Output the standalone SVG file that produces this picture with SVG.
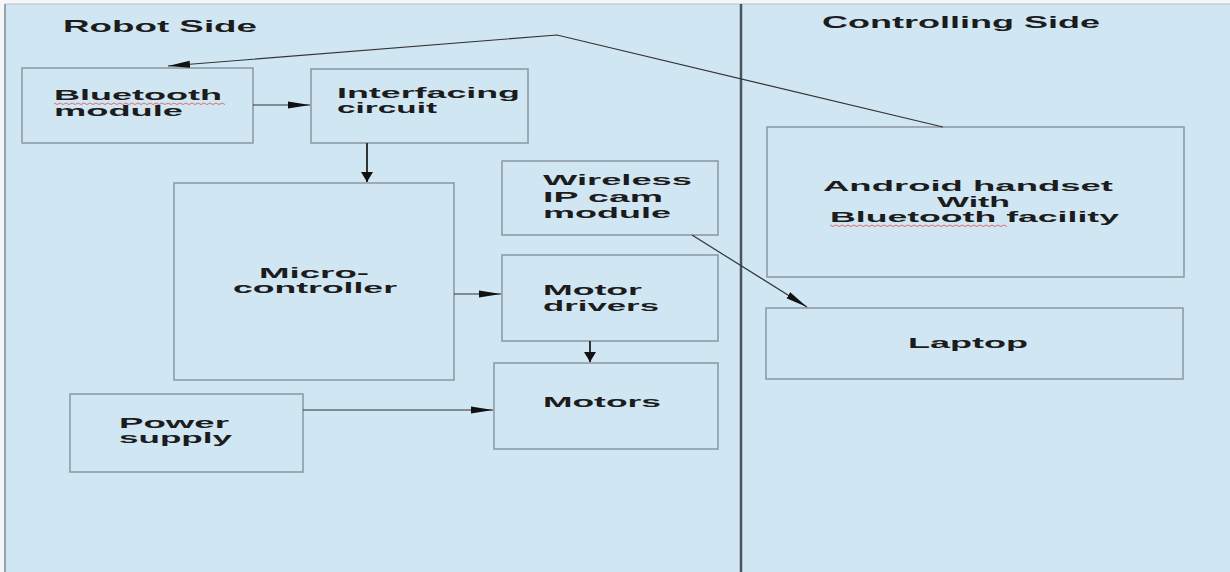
<svg xmlns="http://www.w3.org/2000/svg" width="1230" height="572" viewBox="0 0 1230 572">
<style>
.bg{fill:#d0e6f3}
.box{fill:none;stroke:#8e9ca6;stroke-width:1.6}
.t{font-family:"Liberation Sans",Arial,sans-serif;font-size:15px;font-weight:bold;fill:#1c1c1c}
.h{font-family:"Liberation Sans",Arial,sans-serif;font-size:16.5px;font-weight:bold;fill:#1c1c1c}
.c{fill:none;stroke:#333;stroke-width:1.2}
.cv{fill:none;stroke:#333;stroke-width:2}
.sq{fill:none;stroke:#e05050;stroke-width:0.8}
</style>
<defs>
<marker id="arrH" markerUnits="userSpaceOnUse" markerWidth="22" markerHeight="8" refX="22" refY="4" orient="auto" viewBox="0 0 22 8"><path d="M0,0.5 L22,4 L0,7.5 z" fill="#111"/></marker>
<marker id="arrV" markerUnits="userSpaceOnUse" markerWidth="10" markerHeight="12" refX="10" refY="6" orient="auto" viewBox="0 0 10 12"><path d="M0,0 L10,6 L0,12 z" fill="#111"/></marker>
</defs>
<rect x="0" y="0" width="1230" height="572" fill="#f4f6f7"/>
<rect class="bg" x="5" y="4" width="1225" height="568"/>
<line x1="5" y1="4" x2="1230" y2="4" stroke="#b9c2c8" stroke-width="1"/>
<line x1="5" y1="4" x2="5" y2="572" stroke="#98a2a8" stroke-width="2"/>
<line id="divider" x1="741" y1="4" x2="741" y2="572" stroke="#4b5459" stroke-width="2.5"/>
<text class="h" x="63" y="32" textLength="194" lengthAdjust="spacingAndGlyphs">Robot Side</text>
<text class="h" x="822" y="28" textLength="278" lengthAdjust="spacingAndGlyphs">Controlling Side</text>

<g id="bluetooth">
<rect class="box" x="22" y="68" width="231" height="75"/>
<text class="t" x="54" y="100" textLength="168" lengthAdjust="spacingAndGlyphs">Bluetooth</text>
<text class="t" x="54" y="116" textLength="129" lengthAdjust="spacingAndGlyphs">module</text>
<path class="sq" d="M54,103 l3,1.5 l3,-1.5 l3,1.5 l3,-1.5 l3,1.5 l3,-1.5 l3,1.5 l3,-1.5 l3,1.5 l3,-1.5 l3,1.5 l3,-1.5 l3,1.5 l3,-1.5 l3,1.5 l3,-1.5 l3,1.5 l3,-1.5 l3,1.5 l3,-1.5 l3,1.5 l3,-1.5 l3,1.5 l3,-1.5 l3,1.5 l3,-1.5 l3,1.5 l3,-1.5 l3,1.5 l3,-1.5 l3,1.5 l3,-1.5 l3,1.5 l3,-1.5 l3,1.5 l3,-1.5 l3,1.5 l3,-1.5 l3,1.5 l3,-1.5 l3,1.5 l3,-1.5 l3,1.5 l3,-1.5 l3,1.5 l3,-1.5 l3,1.5 l3,-1.5 l3,1.5 l3,-1.5 l3,1.5 l3,-1.5 l3,1.5 l3,-1.5 l3,1.5 l3,-1.5 l3,1.5"/>
</g>
<g id="interfacing">
<rect class="box" x="311" y="69" width="217" height="74"/>
<text class="t" x="337" y="98" textLength="183" lengthAdjust="spacingAndGlyphs">Interfacing</text>
<text class="t" x="337" y="113" textLength="100" lengthAdjust="spacingAndGlyphs">circuit</text>
</g>
<g id="microcontroller">
<rect class="box" x="174" y="183" width="280" height="197"/>
<text class="t" x="259" y="278" textLength="110" lengthAdjust="spacingAndGlyphs">Micro-</text>
<text class="t" x="233" y="293" textLength="164" lengthAdjust="spacingAndGlyphs">controller</text>
</g>
<g id="wireless">
<rect class="box" x="502" y="161" width="216" height="74"/>
<text class="t" x="543" y="185" textLength="149" lengthAdjust="spacingAndGlyphs">Wireless</text>
<text class="t" x="543" y="202" textLength="120" lengthAdjust="spacingAndGlyphs">IP cam</text>
<text class="t" x="543" y="218" textLength="128" lengthAdjust="spacingAndGlyphs">module</text>
</g>
<g id="motordrivers">
<rect class="box" x="502" y="255" width="216" height="86"/>
<text class="t" x="543" y="295" textLength="99" lengthAdjust="spacingAndGlyphs">Motor</text>
<text class="t" x="543" y="311" textLength="116" lengthAdjust="spacingAndGlyphs">drivers</text>
</g>
<g id="motors">
<rect class="box" x="494" y="363" width="224" height="86"/>
<text class="t" x="543" y="407" textLength="118" lengthAdjust="spacingAndGlyphs">Motors</text>
</g>
<g id="power">
<rect class="box" x="70" y="394" width="233" height="78"/>
<text class="t" x="119" y="428" textLength="110" lengthAdjust="spacingAndGlyphs">Power</text>
<text class="t" x="119" y="443" textLength="113" lengthAdjust="spacingAndGlyphs">supply</text>
</g>
<g id="android">
<rect class="box" x="767" y="127" width="417" height="150"/>
<text class="t" x="823" y="191" textLength="290" lengthAdjust="spacingAndGlyphs">Android handset</text>
<text class="t" x="937" y="207" textLength="73" lengthAdjust="spacingAndGlyphs">With</text>
<text class="t" x="830" y="222" textLength="289" lengthAdjust="spacingAndGlyphs">Bluetooth facility</text>
<path class="sq" d="M830,225 l3,1.5 l3,-1.5 l3,1.5 l3,-1.5 l3,1.5 l3,-1.5 l3,1.5 l3,-1.5 l3,1.5 l3,-1.5 l3,1.5 l3,-1.5 l3,1.5 l3,-1.5 l3,1.5 l3,-1.5 l3,1.5 l3,-1.5 l3,1.5 l3,-1.5 l3,1.5 l3,-1.5 l3,1.5 l3,-1.5 l3,1.5 l3,-1.5 l3,1.5 l3,-1.5 l3,1.5 l3,-1.5 l3,1.5 l3,-1.5 l3,1.5 l3,-1.5 l3,1.5 l3,-1.5 l3,1.5 l3,-1.5 l3,1.5 l3,-1.5 l3,1.5 l3,-1.5 l3,1.5 l3,-1.5 l3,1.5 l3,-1.5 l3,1.5 l3,-1.5 l3,1.5 l3,-1.5 l3,1.5 l3,-1.5 l3,1.5 l3,-1.5 l3,1.5 l3,-1.5 l3,1.5 l3,-1.5 l3,1.5"/>
</g>
<g id="laptop">
<rect class="box" x="766" y="308" width="417" height="71"/>
<text class="t" x="908" y="348" textLength="120" lengthAdjust="spacingAndGlyphs">Laptop</text>
</g>

<g id="connectors">
<line class="c" x1="253" y1="105" x2="310" y2="105" marker-end="url(#arrH)"/>
<line class="cv" x1="367" y1="143" x2="367" y2="182" marker-end="url(#arrV)"/>
<line class="c" x1="454" y1="294" x2="501" y2="294" marker-end="url(#arrH)"/>
<line class="cv" x1="590" y1="341" x2="590" y2="362" marker-end="url(#arrV)"/>
<line class="c" x1="303" y1="410" x2="493" y2="410" marker-end="url(#arrH)"/>
<polyline class="c" points="943,127 557,35 168,66" marker-end="url(#arrH)"/>
<line class="c" x1="692" y1="235" x2="807" y2="307" marker-end="url(#arrH)"/>
</g>
</svg>
